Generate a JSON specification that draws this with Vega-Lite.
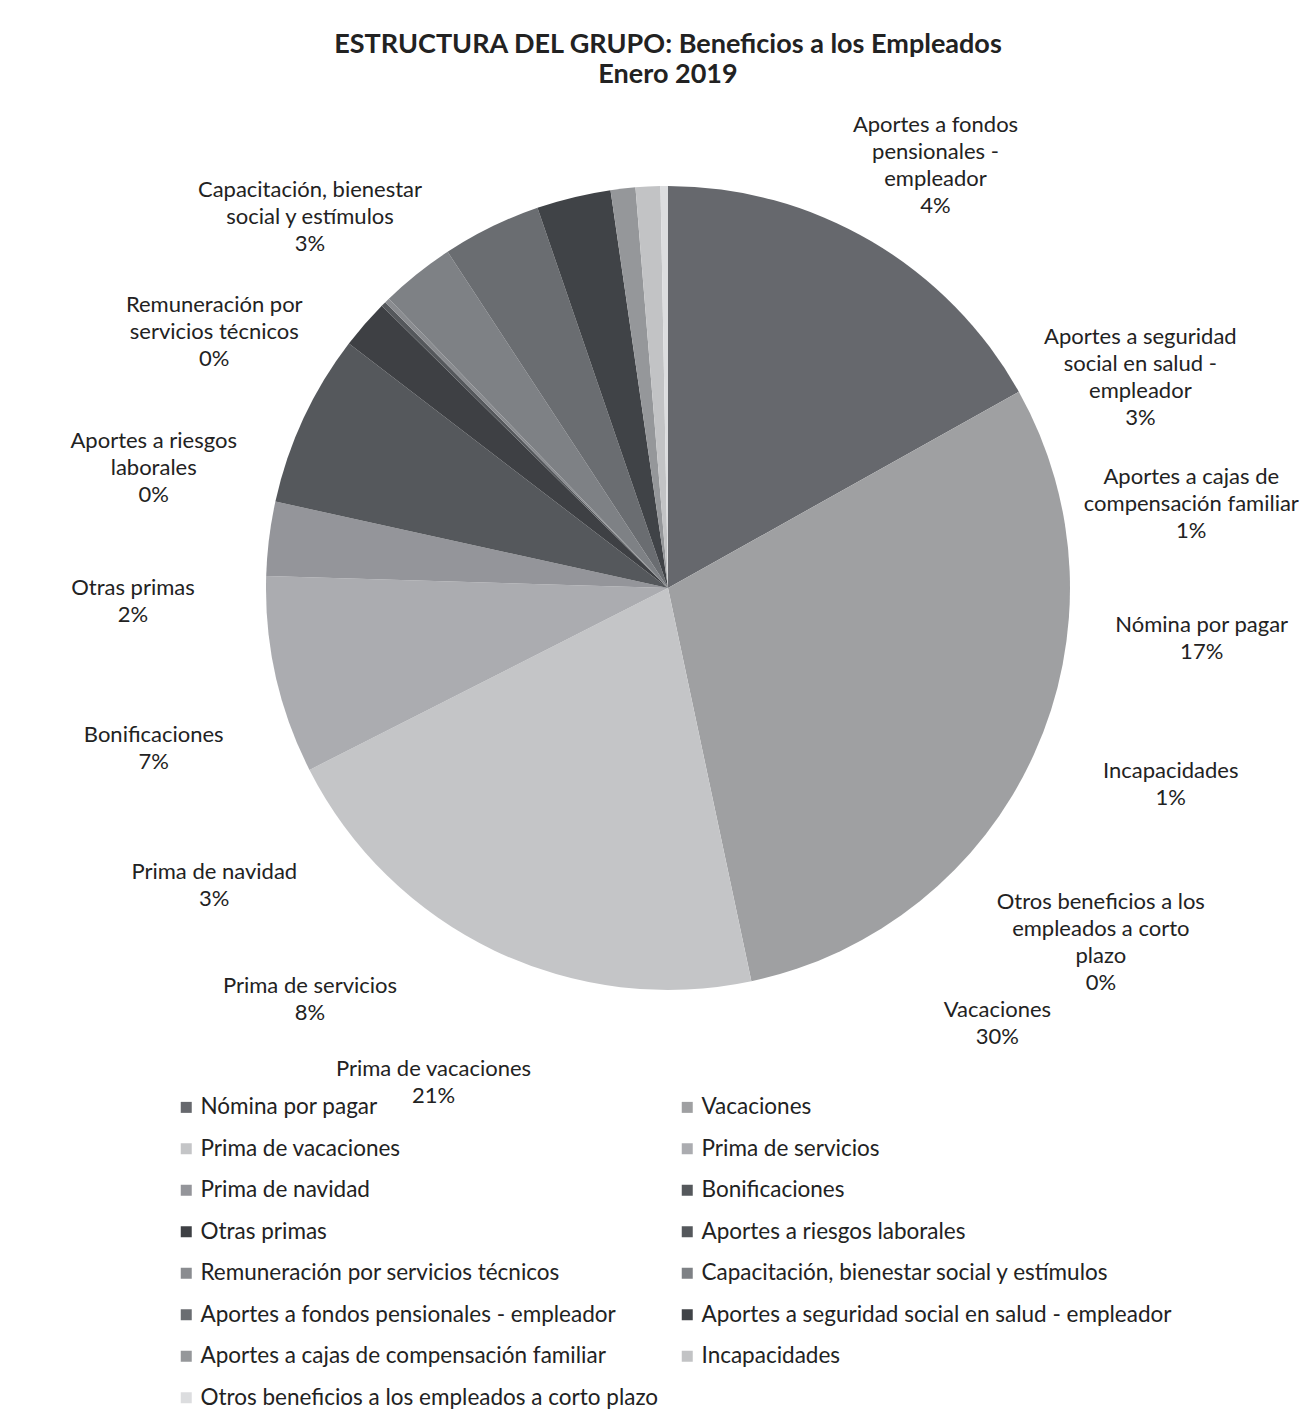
{
  "$schema": "https://vega.github.io/schema/vega-lite/v6.json",
  "autosize": {"type": "none"},
  "padding": {"left": 30, "top": 90, "right": 0, "bottom": 340},
  "width": 1276,
  "height": 996,
  "background": "white",
  "title": {
    "text": ["ESTRUCTURA DEL GRUPO: Beneficios a los Empleados", "Enero 2019"],
    "font": "Lato",
    "fontSize": 27,
    "fontWeight": "bold",
    "color": "#222222",
    "lineHeight": 30,
    "anchor": "middle",
    "offset": 1
  },
  "data": {
    "values": [
      {"n": 1, "name": "Nómina por pagar", "value": 17, "label": "Nómina por pagar\n17%"},
      {"n": 2, "name": "Vacaciones", "value": 30, "label": "Vacaciones\n30%"},
      {"n": 3, "name": "Prima de vacaciones", "value": 21, "label": "Prima de vacaciones\n21%"},
      {"n": 4, "name": "Prima de servicios", "value": 8, "label": "Prima de servicios\n8%"},
      {"n": 5, "name": "Prima de navidad", "value": 3, "label": "Prima de navidad\n3%"},
      {"n": 6, "name": "Bonificaciones", "value": 7, "label": "Bonificaciones\n7%"},
      {"n": 7, "name": "Otras primas", "value": 2, "label": "Otras primas\n2%"},
      {"n": 8, "name": "Aportes a riesgos laborales", "value": 0.2, "label": "Aportes a riesgos\nlaborales\n0%"},
      {"n": 9, "name": "Remuneración por servicios técnicos", "value": 0.2, "label": "Remuneración por\nservicios técnicos\n0%"},
      {"n": 10, "name": "Capacitación, bienestar social y estímulos", "value": 3, "label": "Capacitación, bienestar\nsocial y estímulos\n3%"},
      {"n": 11, "name": "Aportes a fondos pensionales - empleador", "value": 4, "label": "Aportes a fondos\npensionales -\nempleador\n4%"},
      {"n": 12, "name": "Aportes a seguridad social en salud - empleador", "value": 3, "label": "Aportes a seguridad\nsocial en salud -\nempleador\n3%"},
      {"n": 13, "name": "Aportes a cajas de compensación familiar", "value": 1, "label": "Aportes a cajas de\ncompensación familiar\n1%"},
      {"n": 14, "name": "Incapacidades", "value": 1, "label": "Incapacidades\n1%"},
      {"n": 15, "name": "Otros beneficios a los empleados a corto plazo", "value": 0.3, "label": "Otros beneficios a los\nempleados a corto\nplazo\n0%"}
    ]
  },
  "layer": [
    {
      "mark": {"type": "arc", "radius": 402},
      "encoding": {
        "theta": {"field": "value", "type": "quantitative", "stack": true},
        "order": {"field": "n", "type": "quantitative", "sort": "ascending"},
        "color": {
          "field": "name",
          "type": "nominal",
          "sort": [
            "Nómina por pagar", "Prima de vacaciones", "Prima de navidad", "Otras primas",
            "Remuneración por servicios técnicos", "Aportes a fondos pensionales - empleador",
            "Aportes a cajas de compensación familiar", "Otros beneficios a los empleados a corto plazo",
            "Vacaciones", "Prima de servicios", "Bonificaciones", "Aportes a riesgos laborales",
            "Capacitación, bienestar social y estímulos", "Aportes a seguridad social en salud - empleador",
            "Incapacidades"
          ],
          "scale": {
            "range": ["#66686d", "#c4c5c7", "#94959a", "#3e4044", "#8a8c90", "#6a6d71", "#95979a", "#dcdddf",
                      "#9fa0a2", "#abacb0", "#55585c", "#55585c", "#7e8185", "#404347", "#c2c3c5"]
          },
          "legend": {
            "orient": "none",
            "legendX": 145,
            "legendY": 1006,
            "columns": 2,
            "title": null,
            "symbolType": "square",
            "symbolSize": 121,
            "symbolStrokeWidth": 0,
            "labelFont": "Lato",
            "labelFontSize": 22.5,
            "labelColor": "#222222",
            "labelLimit": 700,
            "labelOffset": 3,
            "rowPadding": 18.5,
            "columnPadding": 17
          }
        }
      }
    },
    {
      "mark": {
        "type": "text",
        "radius": 535,
        "font": "Lato",
        "fontSize": 22,
        "lineBreak": "\n",
        "lineHeight": 27,
        "align": "center",
        "baseline": "middle",
        "color": "#222222"
      },
      "encoding": {
        "theta": {
          "field": "name",
          "type": "nominal",
          "scale": {
            "type": "point",
            "padding": 0,
            "domain": [
              "Aportes a fondos pensionales - empleador", "_s0",
              "Aportes a seguridad social en salud - empleador",
              "Aportes a cajas de compensación familiar", "Nómina por pagar", "Incapacidades",
              "Otros beneficios a los empleados a corto plazo", "Vacaciones",
              "_g1", "_g2", "_g3",
              "Prima de vacaciones", "Prima de servicios", "Prima de navidad", "Bonificaciones",
              "Otras primas", "Aportes a riesgos laborales", "Remuneración por servicios técnicos",
              "Capacitación, bienestar social y estímulos"
            ],
            "range": [0.5236, 5.5501]
          }
        },
        "text": {"field": "label", "type": "nominal"}
      }
    }
  ],
  "resolve": {"scale": {"theta": "independent"}},
  "config": {"view": {"stroke": null}}
}
